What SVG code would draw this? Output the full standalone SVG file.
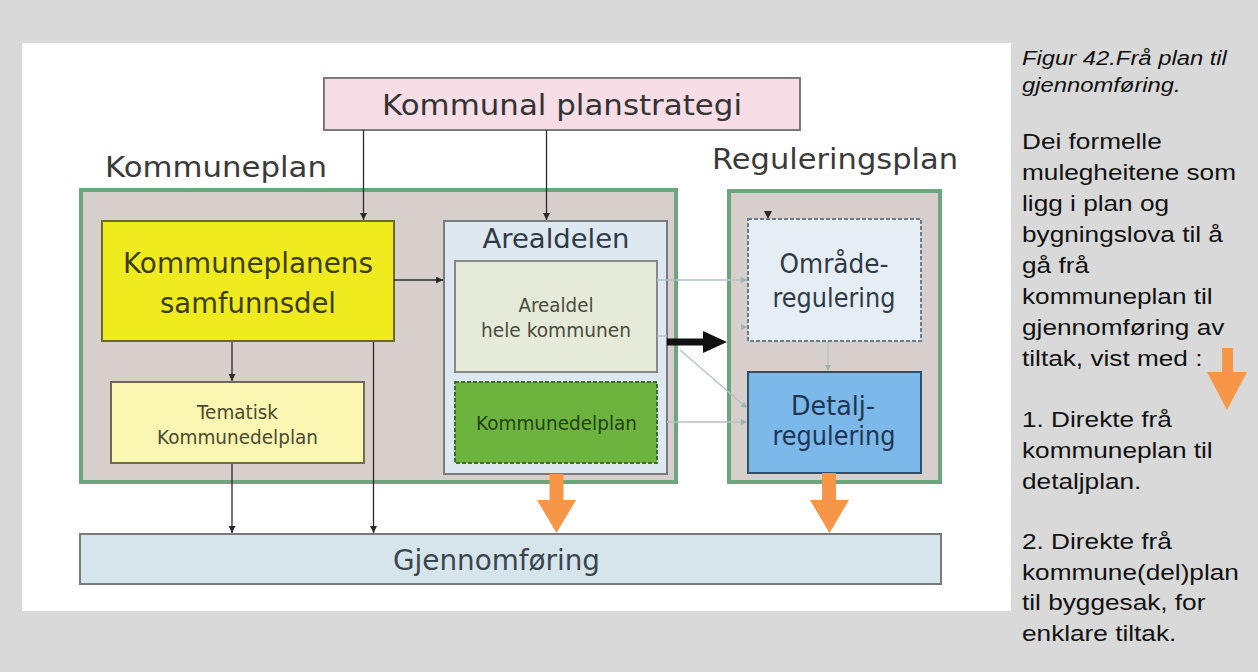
<svg xmlns="http://www.w3.org/2000/svg" width="1258" height="672" viewBox="0 0 1258 672">
<style>
.dt{font-family:"DejaVu Sans","Verdana",sans-serif;text-anchor:middle;lengthAdjust:spacingAndGlyphs}
.green{fill:#d7cfcc;stroke:#6da67c;stroke-width:4}
.thin{stroke:#2a2a2a;stroke-width:1.3;fill:none}
.faint{stroke:#b3c2c2;stroke-width:1.3;fill:none}
.side{font-family:"Liberation Sans",Arial,sans-serif;fill:#111}
.orange{fill:#f79646}
</style>
<defs>
<marker id="ah" viewBox="0 0 10 10" refX="10" refY="5" markerWidth="7" markerHeight="7" markerUnits="userSpaceOnUse" orient="auto">
<path d="M0,0 L10,5 L0,10 z" fill="#2a2a2a"/>
</marker>
<marker id="ahg" viewBox="0 0 10 10" refX="10" refY="5" markerWidth="6" markerHeight="6" markerUnits="userSpaceOnUse" orient="auto">
<path d="M0,0 L10,5 L0,10 z" fill="#9fb4b0"/>
</marker>
</defs>
<rect x="0" y="0" width="1258" height="672" fill="#d9d9d9"/>
<rect x="22" y="43" width="989" height="568" fill="#ffffff"/>

<g id="labels">
<text class="dt" x="216" y="177" font-size="29" fill="#3a3a3a" textLength="222" lengthAdjust="spacingAndGlyphs">Kommuneplan</text>
<text class="dt" x="835" y="169" font-size="29" fill="#3a3a3a" textLength="246" lengthAdjust="spacingAndGlyphs">Reguleringsplan</text>
</g>

<g id="planstrategi">
<rect x="324" y="78" width="476" height="52" fill="#f6dde6" stroke="#7a7a7a" stroke-width="2"/>
<text class="dt" x="562" y="115" font-size="29" fill="#333" textLength="360" lengthAdjust="spacingAndGlyphs">Kommunal planstrategi</text>
</g>

<g id="kommuneplan">
<rect class="green" x="81" y="190" width="595" height="292"/>
</g>

<g id="samfunnsdel">
<rect x="102" y="221" width="292" height="120" fill="#efeb1f" stroke="#6b6a2a" stroke-width="2"/>
<text class="dt" x="248" y="273" font-size="28" fill="#3d3d12" textLength="250" lengthAdjust="spacingAndGlyphs">Kommuneplanens</text>
<text class="dt" x="248" y="313" font-size="28" fill="#3d3d12" textLength="176" lengthAdjust="spacingAndGlyphs">samfunnsdel</text>
</g>

<g id="tematisk">
<rect x="111" y="382" width="253" height="81" fill="#fbf6b2" stroke="#6e6c4a" stroke-width="2"/>
<text class="dt" x="237.5" y="419" font-size="19" fill="#4a4a30" textLength="81" lengthAdjust="spacingAndGlyphs">Tematisk</text>
<text class="dt" x="237.5" y="444" font-size="19" fill="#4a4a30" textLength="161" lengthAdjust="spacingAndGlyphs">Kommunedelplan</text>
</g>

<g id="arealdelen">
<rect x="444" y="221" width="223" height="253" fill="#dde8f0" stroke="#7a7a82" stroke-width="2"/>
<text class="dt" x="556" y="248" font-size="27" fill="#2f3a46" textLength="147" lengthAdjust="spacingAndGlyphs">Arealdelen</text>
</g>

<g id="hele-kommunen">
<rect x="455" y="261" width="202" height="111" fill="#e6ead8" stroke="#858a85" stroke-width="2"/>
<text class="dt" x="556" y="312" font-size="19" fill="#4a4a40" textLength="75" lengthAdjust="spacingAndGlyphs">Arealdel</text>
<text class="dt" x="556" y="337" font-size="19" fill="#4a4a40" textLength="150" lengthAdjust="spacingAndGlyphs">hele kommunen</text>
</g>

<g id="kommunedelplan">
<rect x="455" y="382" width="202" height="81" fill="#6db43f" stroke="#3f6e2a" stroke-width="2" stroke-dasharray="4 2"/>
<text class="dt" x="556.5" y="430" font-size="19" fill="#24401a" textLength="161" lengthAdjust="spacingAndGlyphs">Kommunedelplan</text>
</g>

<g id="reguleringsplan">
<rect class="green" x="729" y="191" width="211" height="291"/>
</g>

<g id="omrade">
<rect x="748" y="219" width="173" height="122" fill="#e6eef5" stroke="#6a7a8a" stroke-width="2" stroke-dasharray="4 2"/>
<text class="dt" x="834" y="273" font-size="26" fill="#2f3a46" textLength="109" lengthAdjust="spacingAndGlyphs">Område-</text>
<text class="dt" x="834" y="307" font-size="26" fill="#2f3a46" textLength="123" lengthAdjust="spacingAndGlyphs">regulering</text>
</g>

<g id="detalj">
<rect x="748" y="372" width="173" height="101" fill="#7cb8e9" stroke="#2f4f6f" stroke-width="2"/>
<text class="dt" x="833" y="415" font-size="26" fill="#1f3550" textLength="84" lengthAdjust="spacingAndGlyphs">Detalj-</text>
<text class="dt" x="834" y="445" font-size="26" fill="#1f3550" textLength="123" lengthAdjust="spacingAndGlyphs">regulering</text>
</g>

<g id="gjennomforing">
<rect x="80" y="534" width="861" height="50" fill="#d6e4eb" stroke="#7a7a7a" stroke-width="2"/>
<text class="dt" x="496.5" y="570" font-size="29" fill="#3a4550" textLength="207" lengthAdjust="spacingAndGlyphs">Gjennomføring</text>
</g>

<g id="connectors">
<line class="thin" x1="363.5" y1="130" x2="363.5" y2="220" marker-end="url(#ah)"/>
<line class="thin" x1="546.5" y1="130" x2="546.5" y2="220" marker-end="url(#ah)"/>
<line class="thin" x1="394" y1="280" x2="443" y2="280" marker-end="url(#ah)"/>
<line class="thin" x1="232" y1="342" x2="232" y2="381" marker-end="url(#ah)"/>
<line class="thin" x1="373.5" y1="342" x2="373.5" y2="533" marker-end="url(#ah)"/>
<line class="thin" x1="232" y1="464" x2="232" y2="533" marker-end="url(#ah)"/>
<line class="faint" x1="657" y1="280" x2="747" y2="280" marker-end="url(#ahg)"/>
<line class="faint" x1="657" y1="336" x2="667" y2="336"/>
<line class="faint" x1="741" y1="327" x2="747" y2="327" marker-end="url(#ahg)"/>
<line class="faint" x1="680" y1="350" x2="747" y2="408" marker-end="url(#ahg)"/>
<line class="faint" x1="667" y1="422" x2="747" y2="422" marker-end="url(#ahg)"/>
<line class="faint" x1="828" y1="342" x2="828" y2="371" marker-end="url(#ahg)"/>
<path d="M764,211 L772,211 L768,219 z" fill="#2a2a2a"/>
<rect x="667" y="338.5" width="38" height="7" fill="#111"/>
<path d="M703,331 L727,342 L703,353 z" fill="#111"/>
<path class="orange" d="M549.5,474 L563.5,474 L563.5,500 L576,500 L556.5,533 L537,500 L549.5,500 z"/>
<path class="orange" d="M822,473 L836,473 L836,500 L849,500 L829.5,533 L810,500 L822,500 z"/>
</g>

<g id="side-text">
<g transform="translate(1022 0) scale(1.19 1)">
<text class="side" x="0" y="65" font-size="20" font-style="italic">Figur 42.Frå plan til</text>
<text class="side" x="0" y="92" font-size="20" font-style="italic">gjennomføring.</text>
</g>
<g transform="translate(1022 0) scale(1.17 1)" font-size="22.4">
<text class="side" x="0" y="149">Dei formelle</text>
<text class="side" x="0" y="180">mulegheitene som</text>
<text class="side" x="0" y="211">ligg i plan og</text>
<text class="side" x="0" y="242">bygningslova til å</text>
<text class="side" x="0" y="273">gå frå</text>
<text class="side" x="0" y="304">kommuneplan til</text>
<text class="side" x="0" y="335">gjennomføring av</text>
<text class="side" x="0" y="366">tiltak, vist med :</text>
<text class="side" x="0" y="427">1. Direkte frå</text>
<text class="side" x="0" y="458">kommuneplan til</text>
<text class="side" x="0" y="489">detaljplan.</text>
<text class="side" x="0" y="549">2. Direkte frå</text>
<text class="side" x="0" y="580">kommune(del)plan</text>
<text class="side" x="0" y="610">til byggesak, for</text>
<text class="side" x="0" y="641">enklare tiltak.</text>
</g>
<path class="orange" d="M1222,348 L1233,348 L1233,372 L1247,372 L1227,410 L1207,372 L1222,372 z"/>
</g>
</svg>
